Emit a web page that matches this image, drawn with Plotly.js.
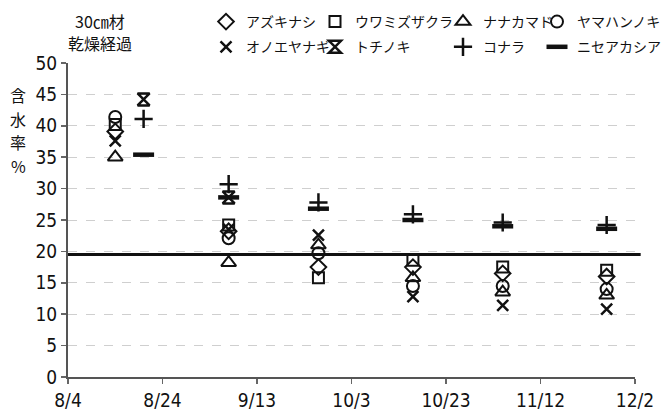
<!DOCTYPE html>
<html><head><meta charset="utf-8">
<script src="https://cdn.plot.ly/plotly-3.0.1.min.js"></script>
<style>html,body{margin:0;padding:0;background:#fff}#chart{width:672px;height:412px}</style>
</head><body><div id="chart"></div>
<script>
// Measurement dates (only month/day are shown on the axis)
const datesMain = ['2023-08-14', '2023-09-07', '2023-09-26', '2023-10-16', '2023-11-04', '2023-11-26'];
const datesLate = ['2023-08-20', '2023-09-07', '2023-09-26', '2023-10-16', '2023-11-04', '2023-11-26'];
const datesTochi = ['2023-08-20', '2023-09-07'];

// Moisture content (%) per species
const azukinashi    = [39.1, 23.2, 17.5, 17.5, 16.5, 16.0];
const uwamizuzakura = [40.2, 24.2, 15.8, 18.6, 17.5, 17.0];
const nanakamado    = [35.0, 18.2, 21.0, 15.8, 13.5, 13.0];
const yamahannoki   = [41.4, 22.1, 19.7, 14.5, 14.5, 14.0];
const onoeyanagi    = [37.6, 23.5, 22.6, 12.8, 11.4, 10.8];
const tochinoki     = [44.2, 28.6];
const konara        = [41.1, 30.7, 27.8, 25.9, 24.6, 24.2];
const niseakashia   = [35.4, 28.6, 26.8, 25.0, 24.0, 23.6];

// Target moisture level
const targetLevel = 19.5;

const axisRange = ['2023-08-04', '2023-12-02'];
const tickStart = '2023-08-04';
const tickStepDays = 20;

const jp = '"Noto Sans CJK JP", "Noto Sans", sans-serif';
const num = '"Liberation Sans Narrow", "DejaVu Sans Condensed", "Arial Narrow", sans-serif';
const ink = '#111';

function series(name, x, y, symbol, size, lw, legendId) {
  return {
    type: 'scatter', mode: 'markers', name: name, x: x, y: y,
    legend: legendId, legendgroup: name,
    marker: {symbol: symbol, size: size, color: ink, line: {color: ink, width: lw}},
    hoverinfo: 'x+y+name'
  };
}

const traces = [
  series('アズキナシ', datesMain, azukinashi, 'diamond-open', 12, 2, 'legend'),
  series('オノエヤナギ', datesMain, onoeyanagi, 'x-thin-open', 11, 2.5, 'legend'),
  series('ウワミズザクラ', datesMain, uwamizuzakura, 'square-open', 11, 2, 'legend2'),
  series('トチノキ', datesTochi, tochinoki, 'hourglass-open', 12, 2.5, 'legend2'),
  series('ナナカマド', datesMain, nanakamado, 'triangle-up-open', 13, 2, 'legend3'),
  series('コナラ', datesLate, konara, 'cross-thin-open', 13, 2.5, 'legend3'),
  series('ヤマハンノキ', datesMain, yamahannoki, 'circle-open', 12, 2, 'legend4'),
  series('ニセアカシア', datesLate, niseakashia, 'line-ew-open', 15, 4.5, 'legend4')
];

function legendAt(px, py) {
  return {
    xref: 'container', yref: 'container',
    x: px / 672, y: 1 - py / 412, xanchor: 'left', yanchor: 'top',
    orientation: 'v', bgcolor: 'rgba(0,0,0,0)', borderwidth: 0,
    tracegroupgap: 4, traceorder: 'grouped',
    font: {family: jp, size: 14, color: ink}
  };
}

function label(text, px, py, size) {
  return {
    text: text, xref: 'paper', yref: 'paper',
    x: (px - 68) / 567, y: (377 - py) / 314, xanchor: 'center', yanchor: 'middle',
    showarrow: false, font: {family: jp, size: size, color: ink}
  };
}

const layout = {
  width: 672, height: 412,
  margin: {l: 68, r: 37, t: 63, b: 35, autoexpand: false},
  paper_bgcolor: '#fff', plot_bgcolor: '#fff',
  showlegend: true,
  legend: legendAt(206, 6),
  legend2: legendAt(315, 6),
  legend3: legendAt(443, 6),
  legend4: legendAt(537, 6),
  xaxis: {
    type: 'date', range: axisRange, autorange: false,
    tick0: tickStart, dtick: tickStepDays * 86400000, tickformat: '%-m/%-d',
    showgrid: false, zeroline: false,
    showline: true, linecolor: '#555', linewidth: 2,
    ticks: 'outside', ticklen: 5, tickwidth: 1.5, tickcolor: '#666',
    tickfont: {family: num, size: 19, color: ink}
  },
  yaxis: {
    range: [0, 50], autorange: false, dtick: 5, tick0: 0,
    showgrid: true, gridcolor: '#cfcfcf', gridwidth: 1, griddash: 'dash',
    zeroline: false,
    showline: true, linecolor: '#555', linewidth: 2,
    ticks: 'outside', ticklen: 5, tickwidth: 1.5, tickcolor: '#666',
    tickfont: {family: num, size: 19, color: ink}
  },
  shapes: [{
    type: 'line', xref: 'paper', x0: 0, x1: 1.01, yref: 'y', y0: targetLevel, y1: targetLevel,
    line: {color: ink, width: 3}, layer: 'above'
  }],
  annotations: [
    label('含', 18, 95, 16),
    label('水', 18, 118.5, 16),
    label('率', 18, 142, 16),
    label('%', 18, 165.5, 16),
    label('30㎝材', 100, 21, 16),
    label('乾燥経過', 100, 43, 16)
  ]
};

Plotly.newPlot('chart', traces, layout, {displayModeBar: false, staticPlot: true});
</script>
</body></html>
